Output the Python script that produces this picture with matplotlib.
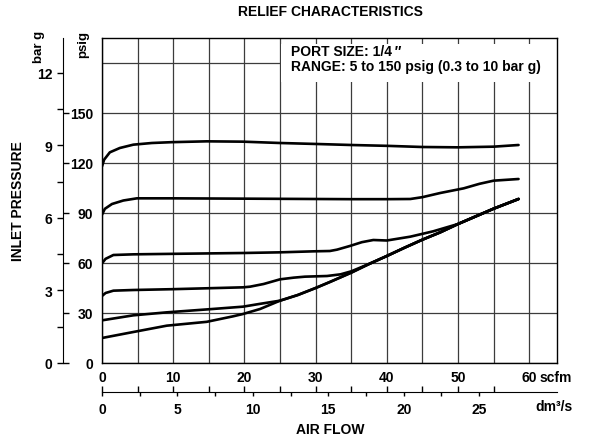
import numpy as np
import matplotlib.pyplot as plt

plt.rcParams["font.family"] = ["Liberation Sans", "DejaVu Sans"]
plt.rcParams["font.weight"] = "bold"

# ----------------------------
# Data
# ----------------------------

# shared high-flow part where the lower curves run together
tail_scfm = [25, 27.5, 30, 32, 35, 37.6, 40, 42.5, 45, 47.5, 50, 52.5, 55, 58.5]
tail_psig = [37.4, 40.8, 45, 48.6, 54.2, 59.6, 64.2, 69.2, 74, 78.4, 83.4, 88, 92.6, 98.4]

set120_scfm = [0, 0.3, 1.1, 2.5, 4.4, 7, 9.8, 14.7, 19.8, 25, 30.2, 35, 40, 45, 50, 55, 58.5]
set120_psig = [118, 122, 126.4, 129, 131, 132, 132.5, 133, 132.8, 132, 131.4, 130.8, 130.3, 129.6, 129.4, 129.8, 130.8]

set90_scfm = [0, 0.4, 1.4, 3, 4.9, 10, 20, 30, 34.8, 40, 43.3, 45, 47.5, 50.8, 53, 55, 58.5]
set90_psig = [89, 92.5, 95.4, 97.5, 98.8, 98.8, 98.6, 98.4, 98.3, 98.3, 98.4, 99.5, 102, 104.8, 107.5, 109.4, 110.4]

set60_scfm = [0, 0.5, 1.6, 4.4, 10, 19.8, 25, 29.7, 32, 33, 34.8, 36.5, 38.1, 40, 43.3, 46.5, 50]
set60_psig = [59.8, 62.5, 64.8, 65.2, 65.5, 66, 66.4, 67, 67.2, 68, 70.2, 72.5, 73.8, 73.5, 75.8, 79, 83.4]

set30_scfm = [0, 0.5, 1.6, 4.4, 10, 19.8, 20.8, 22.7, 25, 26.9, 28.5, 31.6, 33.5, 35, 36.3, 37.6]
set30_psig = [40.2, 42, 43.4, 43.8, 44.3, 45.4, 45.8, 47.4, 50.2, 51.2, 51.8, 52.2, 53.2, 55, 57.3, 59.6]

set20_scfm = [0, 4.4, 9.1, 15.2, 19.8, 22.2, 25]
set20_psig = [25.6, 28.6, 30.4, 32.3, 33.8, 35.5, 37.4]

set10_scfm = [0, 4.4, 9.1, 14.7, 18.4, 19.8, 22.2, 25]
set10_psig = [15, 18.6, 22.4, 24.7, 28, 29.4, 32.4, 37.4]

psig_ticks = [0, 30, 60, 90, 120, 150]
bar_ticks = [0, 3, 6, 9, 12]
bar_minor = [1.5, 4.5, 7.5, 10.5]
scfm_ticks = [0, 10, 20, 30, 40, 50, 60]
dm3s_ticks = [0, 5, 10, 15, 20, 25]
dm3s_minor = [2.5, 7.5, 12.5, 17.5, 22.5]

PSI_PER_BAR = 14.5038
DM3S_PER_SCFM = 0.4719474
X_MAX = 63.9
Y_MAX = 195

W, H = 590, 439
FS = 10


def fx(px):
    return px / W


def fy(py):
    return 1 - py / H


fig = plt.figure(figsize=(W / 100, H / 100), dpi=100)

# ----------------------------
# Main grid
# ----------------------------

ax = fig.add_axes([fx(102), fy(364), (557 - 102) / W, (364 - 39) / H])
ax.set_xlim(0, X_MAX)
ax.set_ylim(0, Y_MAX)

ax.set_xticks(scfm_ticks)
ax.set_xticks([5, 15, 25, 35, 45, 55], minor=True)
ax.set_yticks(psig_ticks)
ax.set_yticks([180], minor=True)
ax.grid(which="both", color="#3c3c3c", linewidth=0.9)
ax.set_axisbelow(True)
ax.tick_params(which="both", length=0, labelsize=FS)
ax.tick_params(axis="y", pad=6.5)
ax.tick_params(axis="x", pad=5)
for sp in ax.spines.values():
    sp.set_linewidth(1.0)
    sp.set_zorder(5)

# white box behind the note
ax.add_patch(plt.Rectangle((25.2, 168.4), X_MAX - 25.2, 23.0,
                           facecolor="white", edgecolor="none", zorder=2))
ax.text(26.6, 187.4, "PORT SIZE: 1/4\u2009\u2033", fontsize=FS, fontweight="bold",
        va="center", ha="left", zorder=3)
ax.text(26.6, 178.4, "RANGE: 5 to 150 psig (0.3 to 10 bar g)", fontsize=FS,
        fontweight="bold", va="center", ha="left", zorder=3)

curves = [
    (set120_scfm, set120_psig),
    (set90_scfm, set90_psig),
    (set60_scfm + tail_scfm[-4:], set60_psig + tail_psig[-4:]),
    (set30_scfm + tail_scfm[6:], set30_psig + tail_psig[6:]),
    (set20_scfm + tail_scfm[1:], set20_psig + tail_psig[1:]),
    (set10_scfm + tail_scfm[1:], set10_psig + tail_psig[1:]),
]
for xs, ys in curves:
    ax.plot(xs, ys, color="black", linewidth=1.9, solid_capstyle="round",
            solid_joinstyle="round", zorder=4)

# ----------------------------
# bar g axis (with psig ticks on its right side)
# ----------------------------

bax = fig.add_axes([fx(63), fy(364), 0.0001, (364 - 39) / H])
bax.set_ylim(0, Y_MAX / PSI_PER_BAR)
bax.set_xticks([])
bax.set_yticks(bar_ticks)
bax.set_yticks(bar_minor, minor=True)
bax.tick_params(which="both", direction="out", length=4, width=1,
                labelsize=FS, pad=3.5)
for name, sp in bax.spines.items():
    sp.set_visible(name == "left")
bax.patch.set_visible(False)

pax = bax.twinx()
pax.set_ylim(0, Y_MAX)
pax.set_yticks(psig_ticks)
pax.tick_params(axis="y", direction="out", length=4, width=1, labelright=False)
for sp in pax.spines.values():
    sp.set_visible(False)

# ----------------------------
# dm3/s axis below
# ----------------------------

dax = fig.add_axes([fx(102), fy(393), (557 - 102) / W, 0.0001])
dax.set_xlim(0, X_MAX * DM3S_PER_SCFM)
dax.set_yticks([])
dax.set_xticks(dm3s_ticks)
dax.set_xticks(dm3s_minor, minor=True)
dax.tick_params(which="both", direction="out", length=3, width=1,
                labelsize=FS, pad=4)
for name, sp in dax.spines.items():
    sp.set_visible(name == "bottom")
dax.patch.set_visible(False)

tax = dax.twiny()
tax.set_xlim(0, X_MAX)
tax.set_xticks([0, 5, 10, 15, 20, 25, 30, 35, 40, 45, 50, 55])
tax.tick_params(axis="x", direction="out", length=4, width=1, labeltop=False)
for sp in tax.spines.values():
    sp.set_visible(False)

# ----------------------------
# Labels
# ----------------------------

fig.text(fx(330), fy(12), "RELIEF CHARACTERISTICS", fontsize=FS,
         fontweight="bold", ha="center", va="center")
fig.text(fx(330), fy(430), "AIR FLOW", fontsize=FS, fontweight="bold",
         ha="center", va="center")
fig.text(fx(18), fy(201), "INLET PRESSURE", fontsize=FS, fontweight="bold",
         ha="center", va="center", rotation=90)
fig.text(fx(39), fy(47), "bar g", fontsize=9.5, fontweight="bold",
         ha="center", va="center", rotation=90)
fig.text(fx(83), fy(45), "psig", fontsize=9.5, fontweight="bold",
         ha="center", va="center", rotation=90)
fig.text(fx(540), fy(378), "scfm", fontsize=FS, fontweight="bold",
         ha="left", va="center")
fig.text(fx(535), fy(407), "dm\u00b3/s", fontsize=FS,
         fontweight="bold", ha="left", va="center")

fig.savefig("out.png", dpi=100)
